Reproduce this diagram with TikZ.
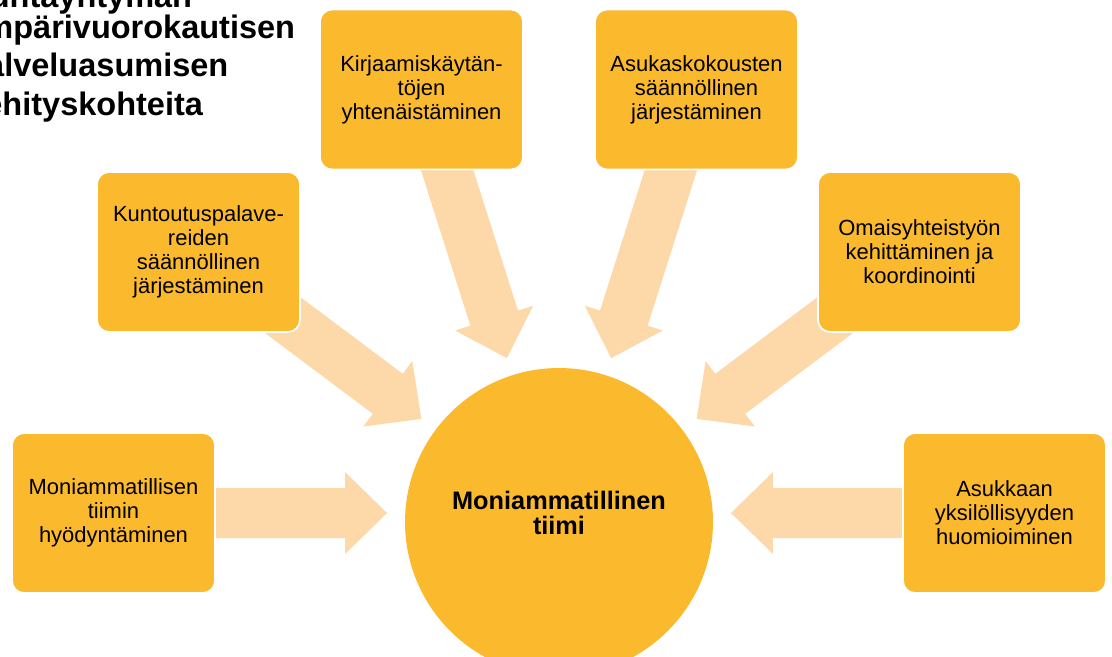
\documentclass[tikz,border=0pt]{standalone}
\usepackage{fontspec}
\setmainfont{Liberation Sans}
\usetikzlibrary{calc,backgrounds}
\definecolor{boxfill}{HTML}{FBB92D}
\definecolor{arrowfill}{HTML}{FDD9AA}
\tikzset{
  aimbox/.style={draw=white, line width=1pt, fill=boxfill, rounded corners=0.24cm,
    minimum width=4.06cm, minimum height=3.2cm, align=center, inner sep=2pt,
    font=\fontsize{12.5}{13.7}\selectfont},
  teamcircle/.style={circle, fill=boxfill, minimum size=6.16cm, inner sep=0pt},
}
\begin{document}
\begin{tikzpicture}[x=0.02cm,y=-0.02cm]
  \useasboundingbox (0,0) rectangle (1112,656);
  % otsikko, rajattu vasemmasta reunasta
  \begin{scope}
    \clip (0,0) rectangle (1112,656);
    \node[anchor=base west, align=left, inner sep=0pt,
      font=\fontsize{18.5}{21.8}\selectfont\bfseries] (title) at (-34,115)
      {Kuntayhtymän\\[-4pt]ympärivuorokautisen\\palveluasumisen\\kehityskohteita};
  \end{scope}
  \node[teamcircle, label={[font=\fontsize{14.4}{14.4}\selectfont\bfseries,
    align=center, yshift=0.18cm]center:Moniammatillinen\\tiimi}] (team) at (559,522) {};
  \node[aimbox] (kunto) at (198.5,252) {Kuntoutuspalave-\\reiden\\säännöllinen\\järjestäminen};
  \node[aimbox] (kirja) at (421.5,89.5) {Kirjaamiskäytän-\\töjen\\yhtenäistäminen};
  \node[aimbox] (asuko) at (696.5,89.5) {Asukaskokousten\\säännöllinen\\järjestäminen};
  \node[aimbox] (omais) at (919.5,252) {Omaisyhteistyön\\kehittäminen ja\\koordinointi};
  \node[aimbox] (monia) at (113.5,513) {Moniammatillisen\\tiimin\\hyödyntäminen};
  \node[aimbox] (asukk) at (1004.5,513) {Asukkaan\\yksilöllisyyden\\huomioiminen};
  \coordinate (teamside) at (team.center |- monia.center);
  % nuolet laatikoista tiimiin
  \begin{scope}[on background layer]
    \foreach \b/\aim in {kunto/team,kirja/team,asuko/team,omais/team,
                         monia/teamside,asukk/teamside}{
      \coordinate (tip) at ($(\aim)!3.44cm!(\b.center)$);
      \coordinate (hb) at ($(tip)!0.84cm!(\b.center)$);
      \fill[arrowfill] ($(\b.center)!0.5cm!90:(tip)$) -- ($(hb)!0.5cm!90:(tip)$)
        -- ($(hb)!0.82cm!90:(tip)$) -- (tip) -- ($(hb)!0.82cm!-90:(tip)$)
        -- ($(hb)!0.5cm!-90:(tip)$) -- ($(\b.center)!0.5cm!-90:(tip)$) -- cycle;
    }
  \end{scope}
\end{tikzpicture}
\end{document}
